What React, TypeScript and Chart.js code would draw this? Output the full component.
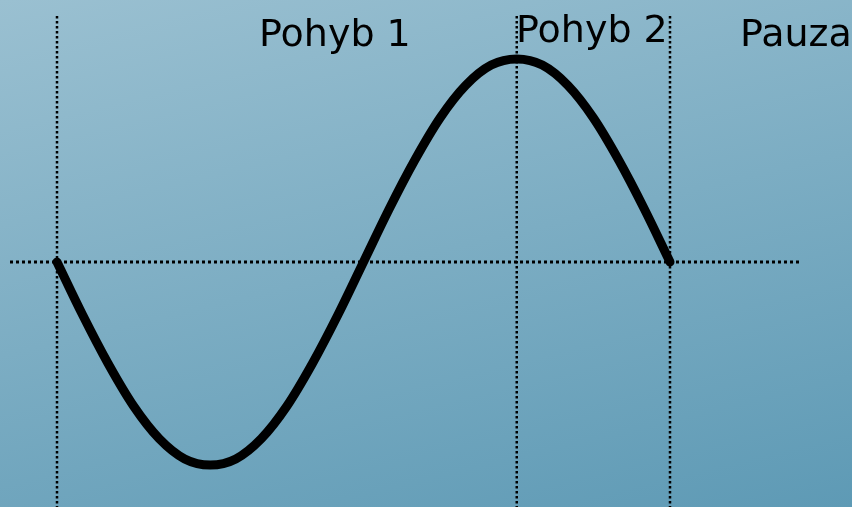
import React, { useEffect, useRef } from "react";
import { Chart, registerables } from "chart.js";

Chart.register(...registerables);

// phase in degrees along the movement
const phases = [0, 15, 30, 45, 60, 75, 90, 105, 120, 135, 150, 165, 180, 195, 210, 225, 240, 255, 270, 285, 300, 315, 330, 345, 360];
// displacement (normalized amplitude)
const displacement = [0, -0.26, -0.5, -0.71, -0.87, -0.97, -1, -0.97, -0.87, -0.71, -0.5, -0.26, 0, 0.26, 0.5, 0.71, 0.87, 0.97, 1, 0.97, 0.87, 0.71, 0.5, 0.26, 0];
// vertical marker lines (phase)
const markers = [0, 270, 360];
// section labels
const sectionLabels = ["Pohyb 1", "Pohyb 2", "Pauza"];

const W = 852;
const H = 507;

export default function App() {
  const ref = useRef<HTMLCanvasElement | null>(null);

  useEffect(() => {
    document.body.style.margin = "0";
    const canvas = ref.current;
    if (!canvas) return;

    const pxPerDeg = 613 / 360;
    const xMin = -57 / pxPerDeg;
    const xMax = (W - 57) / pxPerDeg;
    const amp = 203;
    const yMax = 262 / amp;
    const yMin = -(H - 262) / amp;
    const lineTop = (262 - 16) / amp;

    const bgPlugin = {
      id: "bg",
      beforeDraw(chart: any) {
        const ctx = chart.ctx;
        const g = ctx.createLinearGradient(0, 0, 162, 673);
        g.addColorStop(0, "#9ac0d1");
        g.addColorStop(1, "#5e9ab5");
        ctx.save();
        ctx.fillStyle = g;
        ctx.fillRect(0, 0, W, H);
        ctx.restore();
      },
    };

    const textPlugin = {
      id: "texts",
      afterDraw(chart: any) {
        const ctx = chart.ctx;
        const pos = [
          [259, 46],
          [516, 42],
          [740, 46],
        ];
        ctx.save();
        ctx.fillStyle = "#000";
        ctx.font = '38px "DejaVu Sans"';
        ctx.textBaseline = "alphabetic";
        sectionLabels.forEach((t, i) => ctx.fillText(t, pos[i][0], pos[i][1]));
        ctx.restore();
      },
    };

    const markerSets = markers.map((m) => ({
      data: [
        { x: m, y: lineTop },
        { x: m, y: yMin - 1 },
      ],
      borderColor: "#000",
      borderWidth: 2.5,
      borderDash: [2.5, 2.5],
      pointRadius: 0,
      fill: false,
      tension: 0,
      order: 2,
    }));

    const chart = new Chart(canvas, {
      type: "line",
      data: {
        datasets: [
          {
            data: [
              { x: (10 - 57) / pxPerDeg, y: 0 },
              { x: (800 - 57) / pxPerDeg, y: 0 },
            ],
            borderColor: "#000",
            borderWidth: 3,
            borderDash: [3, 3],
            pointRadius: 0,
            fill: false,
            tension: 0,
            order: 2,
          },
          ...markerSets,
          {
            data: phases.map((p, i) => ({ x: p, y: displacement[i] })),
            borderColor: "#000",
            borderWidth: 9,
            borderCapStyle: "round",
            borderJoinStyle: "round",
            pointRadius: 0,
            fill: false,
            cubicInterpolationMode: "monotone",
            order: 1,
          } as any,
        ],
      },
      options: {
        responsive: false,
        animation: false,
        layout: { padding: 0 },
        plugins: { legend: { display: false }, tooltip: { enabled: false } },
        events: [],
        scales: {
          x: { type: "linear", min: xMin, max: xMax, display: false },
          y: { type: "linear", min: yMin, max: yMax, display: false },
        },
      },
      plugins: [bgPlugin, textPlugin],
    } as any);

    return () => chart.destroy();
  }, []);

  return <canvas ref={ref} width={W} height={H} style={{ display: "block" }} />;
}
